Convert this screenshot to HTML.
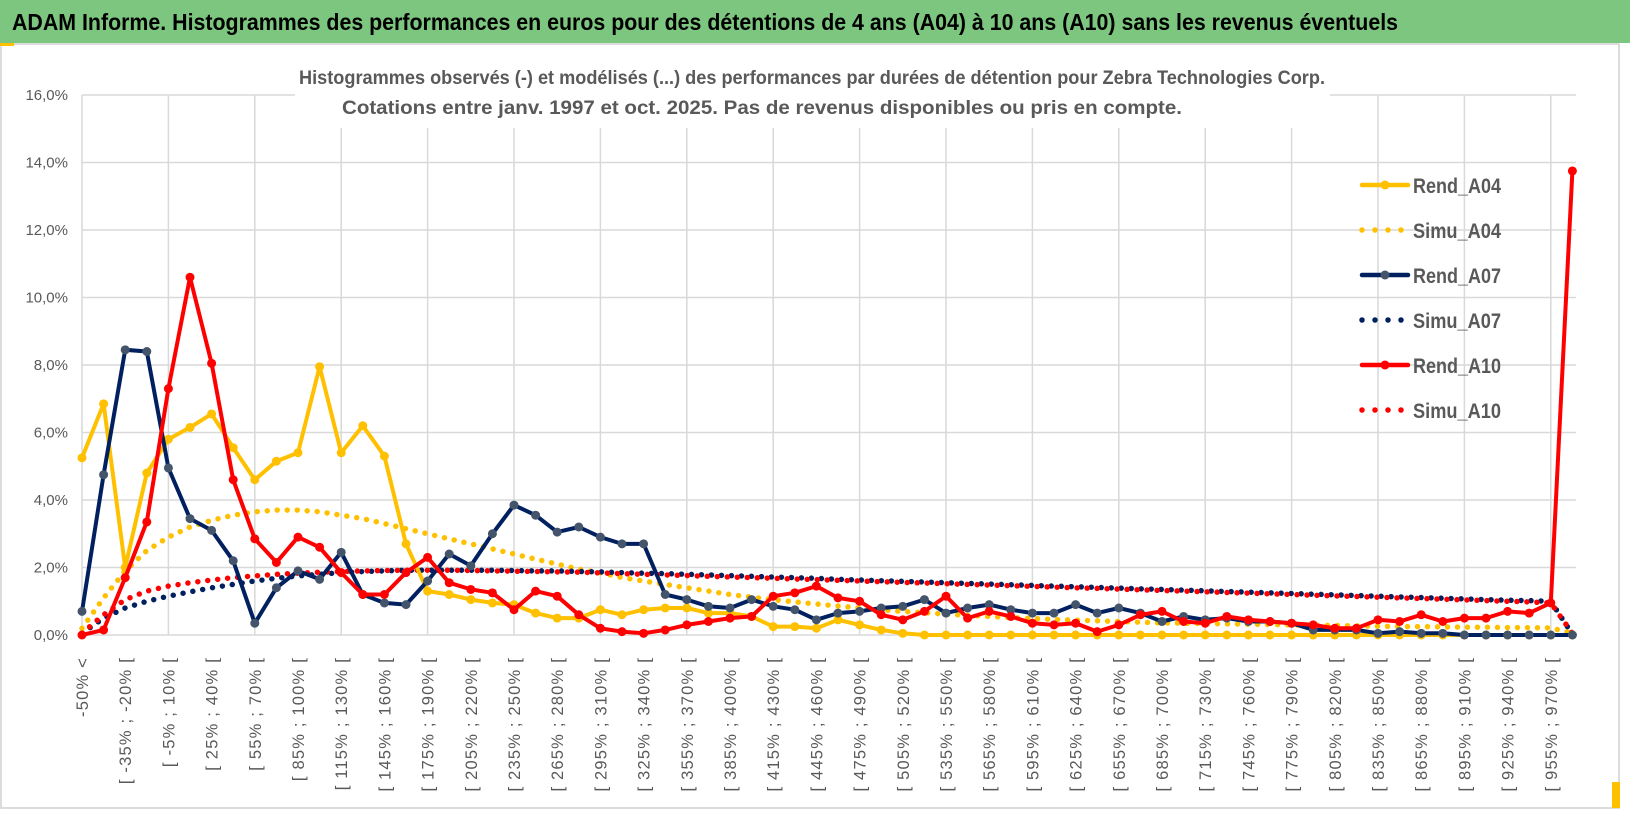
<!DOCTYPE html>
<html><head><meta charset="utf-8"><style>
html,body{margin:0;padding:0;background:#fff;}
svg{display:block;font-family:"Liberation Sans",sans-serif;}
</style></head><body>
<svg id="chart" width="1630" height="815" viewBox="0 0 1630 815">
<rect x="0" y="0" width="1630" height="815" fill="#fff"/>
<rect x="0" y="0" width="1630" height="43" fill="#7dc67f"/>
<text x="12" y="30" font-size="23" font-weight="bold" fill="#000" textLength="1386" lengthAdjust="spacingAndGlyphs">ADAM Informe. Histogrammes des performances en euros pour des détentions de 4 ans (A04) à 10 ans (A10) sans les revenus éventuels</text>
<rect x="1" y="44" width="1618" height="764" fill="none" stroke="#d0d0d0" stroke-width="1.5"/>
<rect x="0" y="43" width="14" height="3" fill="#ffc000"/>
<rect x="1612" y="782" width="8" height="26" fill="#ffc000"/>
<g id="grid"></g>
<g id="yaxis"></g>
<g id="xaxis"></g>
<rect x="295" y="62" width="1035" height="66" fill="#fff"/>
<g id="series"></g>
<text x="299" y="84" font-size="19" font-weight="bold" fill="#595959" textLength="1026" lengthAdjust="spacingAndGlyphs">Histogrammes observés (-) et modélisés (...) des performances par durées de détention pour Zebra Technologies Corp.</text>
<text x="342" y="114" font-size="19" font-weight="600" fill="#595959" textLength="840" lengthAdjust="spacingAndGlyphs">Cotations entre janv. 1997 et oct. 2025. Pas de revenus disponibles ou pris en compte.</text>
<g id="legend"></g>
</svg>
<script>
const rendA04=[5.25,6.85,2.0,4.8,5.8,6.15,6.55,5.55,4.6,5.15,5.4,7.95,5.4,6.2,5.3,2.7,1.3,1.2,1.05,0.95,0.9,0.65,0.5,0.5,0.75,0.6,0.75,0.8,0.8,0.65,0.65,0.55,0.25,0.25,0.2,0.45,0.3,0.15,0.05,0,0,0,0,0,0,0,0,0,0,0,0,0,0,0,0,0,0,0,0,0,0,0,0,0,0,0,0,0,0,0];
const rendA07=[0.7,4.75,8.45,8.4,4.95,3.45,3.1,2.2,0.35,1.4,1.9,1.65,2.45,1.2,0.95,0.9,1.6,2.4,2.05,3.0,3.85,3.55,3.05,3.2,2.9,2.7,2.7,1.2,1.05,0.85,0.8,1.05,0.85,0.75,0.45,0.65,0.7,0.8,0.85,1.05,0.65,0.8,0.9,0.75,0.65,0.65,0.9,0.65,0.8,0.65,0.4,0.55,0.45,0.5,0.4,0.4,0.35,0.15,0.15,0.15,0.05,0.1,0.05,0.05,0,0,0,0,0,0];
const rendA10=[0,0.15,1.7,3.35,7.3,10.6,8.05,4.6,2.85,2.15,2.9,2.6,1.85,1.2,1.2,1.85,2.3,1.55,1.35,1.25,0.75,1.3,1.15,0.6,0.2,0.1,0.05,0.15,0.3,0.4,0.5,0.55,1.15,1.25,1.45,1.1,1.0,0.6,0.45,0.7,1.15,0.5,0.7,0.55,0.35,0.3,0.35,0.1,0.3,0.6,0.7,0.4,0.35,0.55,0.45,0.4,0.35,0.3,0.2,0.2,0.45,0.4,0.6,0.4,0.5,0.5,0.7,0.65,0.95,13.75];
const simuA04=[0.2,1.1,1.9,2.5,2.9,3.2,3.4,3.55,3.65,3.7,3.7,3.65,3.55,3.45,3.3,3.15,3.0,2.85,2.7,2.55,2.4,2.25,2.1,1.95,1.85,1.7,1.6,1.5,1.4,1.3,1.2,1.12,1.05,0.98,0.92,0.86,0.8,0.75,0.7,0.66,0.62,0.58,0.55,0.52,0.49,0.46,0.44,0.42,0.4,0.38,0.36,0.35,0.34,0.33,0.32,0.31,0.3,0.29,0.28,0.27,0.26,0.25,0.25,0.24,0.23,0.23,0.22,0.22,0.21,0.05];
const simuA07=[0.05,0.5,0.8,1.0,1.15,1.28,1.4,1.5,1.6,1.68,1.75,1.8,1.85,1.88,1.9,1.92,1.92,1.92,1.92,1.92,1.91,1.9,1.9,1.88,1.87,1.85,1.83,1.82,1.8,1.78,1.76,1.74,1.72,1.7,1.68,1.65,1.63,1.61,1.59,1.57,1.55,1.53,1.51,1.49,1.47,1.45,1.43,1.41,1.39,1.37,1.35,1.33,1.31,1.29,1.27,1.25,1.23,1.21,1.19,1.17,1.15,1.13,1.11,1.09,1.07,1.05,1.03,1.02,1.0,0.02];
const simuA10=[0.05,0.6,1.05,1.3,1.45,1.55,1.63,1.7,1.75,1.8,1.83,1.86,1.88,1.9,1.91,1.92,1.92,1.92,1.91,1.9,1.89,1.88,1.87,1.86,1.84,1.82,1.8,1.78,1.76,1.74,1.72,1.7,1.68,1.66,1.64,1.62,1.6,1.58,1.56,1.54,1.52,1.5,1.48,1.46,1.44,1.42,1.4,1.38,1.36,1.34,1.32,1.3,1.28,1.26,1.24,1.22,1.2,1.18,1.16,1.14,1.12,1.1,1.08,1.06,1.04,1.02,1.0,0.98,0.95,0.05];
const yTicks=[0,2,4,6,8,10,12,14,16];
const categories=["-50% <"];
for(let k=1;k<70;k++){const a=-50+15*(k-1);categories.push("[ "+a+"% ; "+(a+15)+"% [");}

const NS="http://www.w3.org/2000/svg";
const X0=82,DX=21.6,Y0=635,PY=33.75,XR=1576;
const xs=i=>X0+i*DX, ys=v=>Y0-v*PY;
function mk(tag,attrs,parent){const e=document.createElementNS(NS,tag);for(const k in attrs)e.setAttribute(k,attrs[k]);parent.appendChild(e);return e;}
const grid=document.getElementById('grid'),ya=document.getElementById('yaxis'),xa=document.getElementById('xaxis'),sg=document.getElementById('series'),lg=document.getElementById('legend');
yTicks.forEach(t=>{
  const l=mk('line',{x1:X0,x2:XR,y1:ys(t),y2:ys(t),stroke:'#d9d9d9','stroke-width':1.5},grid);
  
  
  const tx=mk('text',{x:X0-14,y:ys(t)+5,'font-size':15,fill:'#595959','text-anchor':'end'},ya);
  tx.textContent=t.toFixed(1).replace('.',',')+'%';
  
  
});
for(let i=0;i<categories.length;i+=4){
  const l=mk('line',{x1:xs(i),x2:xs(i),y1:ys(16),y2:Y0,stroke:'#d9d9d9','stroke-width':1.5},grid);
  
  
}
categories.forEach((c,i)=>{
  if(i%2)return;
  const x=xs(i)+6,y=657;
  const tx=mk('text',{x:x,y:y,'font-size':16.5,'letter-spacing':1.2,fill:'#595959','text-anchor':'end',transform:`rotate(-90 ${x} ${y})`},xa);
  tx.textContent=c;
  
  
});
function pts(arr){return arr.map((v,i)=>xs(i).toFixed(1)+','+ys(v).toFixed(1)).join(' ');}
function dotted(arr,color,name){
  const p=mk('polyline',{points:pts(arr),fill:'none',stroke:color,'stroke-width':5.5,'stroke-linecap':'round','stroke-dasharray':'0 10'},sg);
  
  
}
function solid(arr,color,mcolor,name){
  const p=mk('polyline',{points:pts(arr),fill:'none',stroke:color,'stroke-width':4,'stroke-linejoin':'round'},sg);
  
  
  arr.forEach((v,i)=>{
    const c=mk('circle',{cx:xs(i),cy:ys(v),r:4.5,fill:mcolor},sg);
    
    
  });
}
dotted(simuA04,'#ffc000','simu-a04-line');
dotted(simuA07,'#002060','simu-a07-line');
dotted(simuA10,'#ff0000','simu-a10-line');
solid(rendA04,'#ffc000','#ffc000','rend-a04-line');
solid(rendA07,'#002060','#44546a','rend-a07-line');
solid(rendA10,'#ff0000','#ff0000','rend-a10-line');
const legendItems=[["Rend_A04","#ffc000","#ffc000",false],["Simu_A04","#ffc000","",true],["Rend_A07","#002060","#44546a",false],["Simu_A07","#002060","",true],["Rend_A10","#ff0000","#ff0000",false],["Simu_A10","#ff0000","",true]];
legendItems.forEach((it,k)=>{
  const y=185+k*45;
  const g=mk('g',{},lg);
  
  
  if(it[3]){mk('line',{x1:1362,x2:1408,y1:y,y2:y,stroke:it[1],'stroke-width':5.5,'stroke-linecap':'round','stroke-dasharray':'0 13'},g);}
  else{mk('line',{x1:1362,x2:1408,y1:y,y2:y,stroke:it[1],'stroke-width':4.5,'stroke-linecap':'round'},g);mk('circle',{cx:1385,cy:y,r:4.5,fill:it[2]},g);}
  const t=mk('text',{x:1413,y:y+8,'font-size':21,'font-weight':'bold',fill:'#595959',textLength:88,lengthAdjust:'spacingAndGlyphs'},g);
  t.textContent=it[0];
});
</script>
</body></html>
